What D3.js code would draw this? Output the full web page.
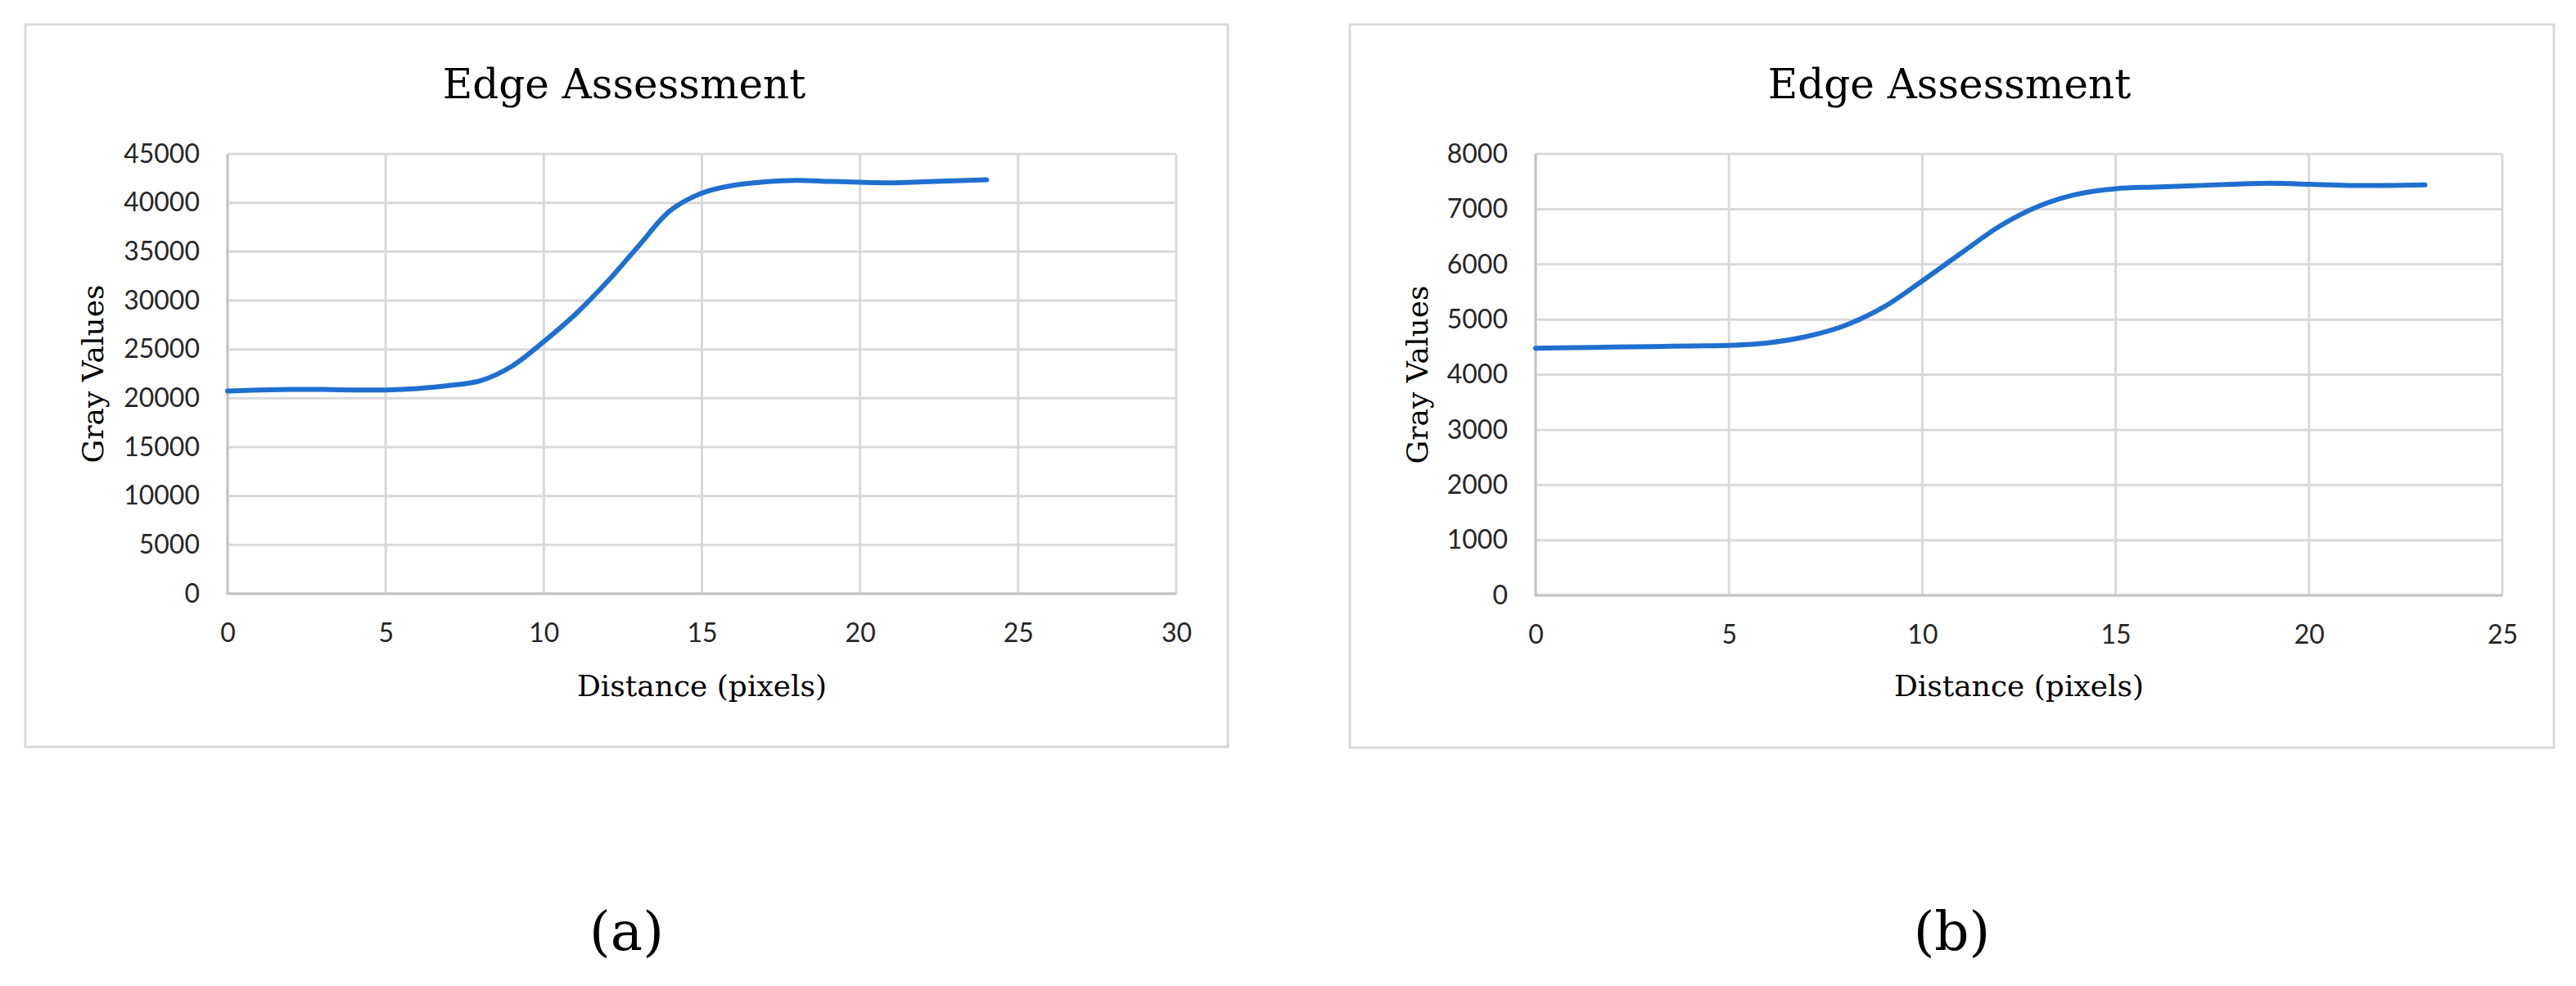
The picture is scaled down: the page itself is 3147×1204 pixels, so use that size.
<!DOCTYPE html>
<meta charset="utf-8">
<style>
body { margin: 0; background: #fff; }
.tick text { font-family: Lato, "Open Sans", sans-serif; font-size: 32px; fill: #262626; }
.grid line { stroke: #d9d9d9; stroke-width: 3; }
.axis path, .axis line { stroke: none; }
.title, .label, .caption { font-family: "DejaVu Serif", serif; fill: #000; }
</style>
<body>
<script src="https://d3js.org/d3.v7.min.js"></script>
<script>

// chart (a)
var distA = [0, 1, 2, 3, 4, 5, 6, 7, 8, 9, 10, 11, 12, 13, 14, 15, 16, 17, 18, 19, 20, 21, 22, 23, 24];
var grayA = [20750, 20850, 20900, 20900, 20850, 20850, 21000, 21300, 21800, 23300, 25800, 28600, 31900, 35600, 39200, 41000, 41800, 42150, 42300, 42200, 42100, 42050, 42150, 42250, 42350];
var xTicksA = [0, 5, 10, 15, 20, 25, 30];
var yTicksA = [0, 5000, 10000, 15000, 20000, 25000, 30000, 35000, 40000, 45000];

// chart (b)
var distB = [0, 1, 2, 3, 4, 5, 6, 7, 8, 9, 10, 11, 12, 13, 14, 15, 16, 17, 18, 19, 20, 21, 22, 23];
var grayB = [4480, 4490, 4500, 4510, 4520, 4530, 4575, 4690, 4890, 5225, 5700, 6200, 6690, 7050, 7270, 7370, 7400, 7425, 7450, 7470, 7450, 7430, 7430, 7440];
var xTicksB = [0, 5, 10, 15, 20, 25];
var yTicksB = [0, 1000, 2000, 3000, 4000, 5000, 6000, 7000, 8000];

var svg = d3.select("body").append("svg")
    .attr("width", 3147)
    .attr("height", 1204);

function drawChart(c) {
  var g = svg.append("g");

  // outer frame
  g.append("rect")
      .attr("x", c.frame[0]).attr("y", c.frame[1])
      .attr("width", c.frame[2] - c.frame[0]).attr("height", c.frame[3] - c.frame[1])
      .attr("fill", "#fff").attr("stroke", "#d9d9d9").attr("stroke-width", 3);

  var x = d3.scaleLinear().domain(d3.extent(c.xTicks)).range([c.plot[0], c.plot[2]]);
  var y = d3.scaleLinear().domain(d3.extent(c.yTicks)).range([c.plot[3], c.plot[1]]);

  // grid
  g.append("g").attr("class", "grid")
    .selectAll("line.h").data(c.yTicks).enter().append("line")
      .attr("x1", c.plot[0]).attr("x2", c.plot[2])
      .attr("y1", function(d) { return y(d); }).attr("y2", function(d) { return y(d); });
  g.append("g").attr("class", "grid")
    .selectAll("line.v").data(c.xTicks).enter().append("line")
      .attr("y1", c.plot[1]).attr("y2", c.plot[3])
      .attr("x1", function(d) { return x(d); }).attr("x2", function(d) { return x(d); });

  // axis lines
  g.append("path")
      .attr("d", "M" + c.plot[0] + "," + c.plot[1] + "V" + c.plot[3] + "H" + c.plot[2])
      .attr("fill", "none").attr("stroke", "#c4c4c4").attr("stroke-width", 3);

  g.append("g").attr("class", "axis")
      .attr("transform", "translate(0," + c.plot[3] + ")")
      .call(d3.axisBottom(x).tickValues(c.xTicks).tickSize(0).tickPadding(36));

  g.append("g").attr("class", "axis")
      .attr("transform", "translate(" + c.plot[0] + ",0)")
      .call(d3.axisLeft(y).tickValues(c.yTicks).tickSize(0).tickPadding(34).tickFormat(d3.format("d")));

  // line
  var line = d3.line()
      .x(function(d) { return x(d[0]); })
      .y(function(d) { return y(d[1]); })
      .curve(d3.curveCatmullRom.alpha(0.5));

  g.append("path")
      .datum(d3.zip(c.xs, c.ys))
      .attr("d", line)
      .attr("fill", "none")
      .attr("stroke", "#1f6fd0")
      .attr("stroke-width", 6)
      .attr("stroke-linecap", "round");

  var cx = (c.frame[0] + c.frame[2]) / 2;
  var pcx = (c.plot[0] + c.plot[2]) / 2;

  g.append("text").attr("class", "title")
      .attr("x", cx - 3).attr("y", 120)
      .attr("text-anchor", "middle")
      .style("font-size", "50px")
      .text("Edge Assessment");

  g.append("text").attr("class", "label")
      .attr("x", pcx).attr("y", 850)
      .attr("text-anchor", "middle")
      .style("font-size", "36px")
      .text("Distance (pixels)");

  g.append("text").attr("class", "label")
      .attr("transform", "translate(" + (c.frame[0] + 95) + "," + ((c.plot[1] + c.plot[3]) / 2) + ") rotate(-90)")
      .attr("text-anchor", "middle")
      .style("font-size", "36px")
      .text("Gray Values");

  g.append("text").attr("class", "caption")
      .attr("x", cx).attr("y", 1160)
      .attr("text-anchor", "middle")
      .style("font-size", "66px")
      .text(c.caption);
}

drawChart({
  frame: [31, 30, 1500, 912],
  plot: [278, 188, 1437, 725],
  xs: distA, ys: grayA, xTicks: xTicksA, yTicks: yTicksA, caption: "(a)"
});

drawChart({
  frame: [1649, 30, 3120, 913],
  plot: [1876, 188, 3057, 727],
  xs: distB, ys: grayB, xTicks: xTicksB, yTicks: yTicksB, caption: "(b)"
});

</script>
</body>
